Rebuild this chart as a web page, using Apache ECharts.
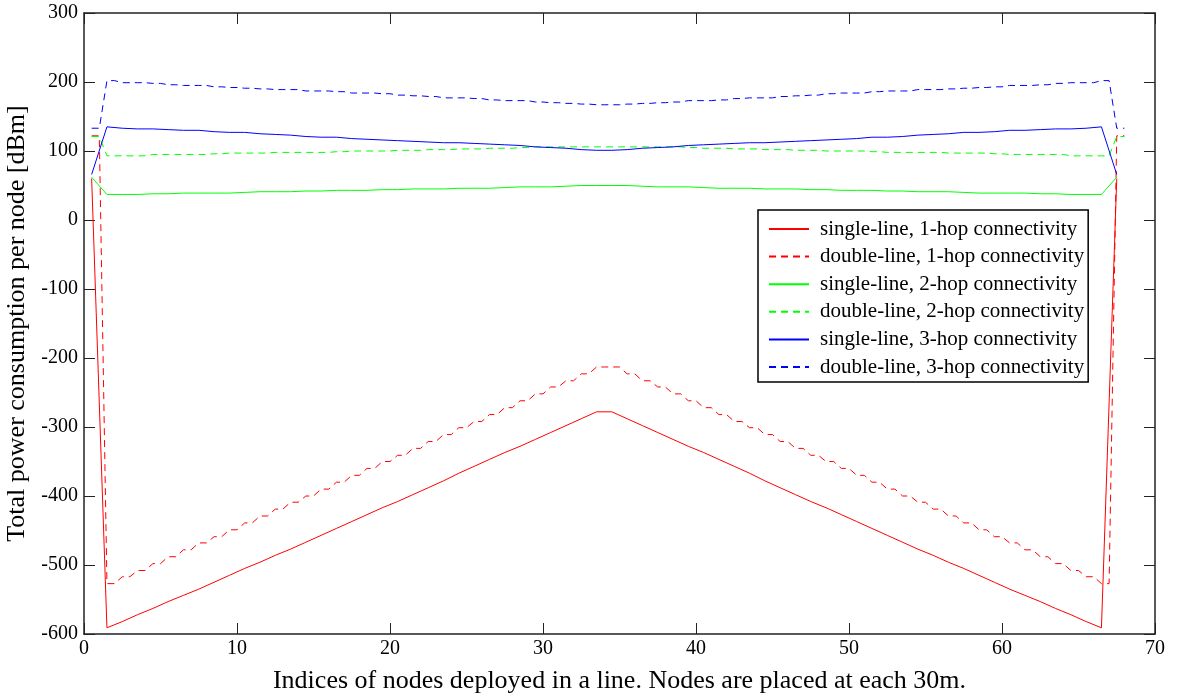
<!DOCTYPE html>
<html>
<head>
<meta charset="utf-8">
<script src="https://cdn.jsdelivr.net/npm/echarts@6/dist/echarts.min.js"></script>
<style>
  html, body { margin: 0; padding: 0; background: #fff; }
  #chart { width: 1179px; height: 697px; }
</style>
</head>
<body>
<div id="chart"></div>
<script>
// single-line series: one value per node, nodes at 0.5, 1.5, ... 67.5
var redSingle = [60, -591, -582, -572, -563, -553, -544, -535, -525, -515, -505, -496, -486, -477, -467, -457, -447, -437, -427, -417, -408, -398, -388, -378, -367, -357, -347, -337, -328, -318, -308, -298, -288, -278,
  -278, -288, -298, -308, -318, -328, -337, -347, -357, -367, -378, -388, -398, -408, -417, -427, -437, -447, -457, -467, -477, -486, -496, -505, -515, -525, -535, -544, -553, -563, -572, -582, -591, 60];
var greenSingle = [62, 37, 37, 37, 38, 38, 39, 39, 39, 39, 40, 41, 41, 41, 42, 42, 43, 43, 43, 44, 44, 45, 45, 45, 46, 46, 46, 47, 48, 48, 48, 49, 50, 50,
  50, 50, 49, 48, 48, 48, 47, 46, 46, 46, 45, 45, 45, 44, 44, 43, 43, 43, 42, 42, 41, 41, 41, 40, 39, 39, 39, 39, 38, 38, 37, 37, 37, 62];
var blueSingle = [66, 135, 133, 132, 132, 131, 130, 130, 128, 127, 127, 125, 124, 123, 121, 120, 120, 118, 117, 116, 115, 114, 113, 112, 112, 111, 110, 109, 108, 106, 105, 104, 102, 101,
  101, 102, 104, 105, 106, 108, 109, 110, 111, 112, 112, 113, 114, 115, 116, 117, 118, 120, 120, 121, 123, 124, 125, 127, 127, 128, 130, 130, 131, 132, 132, 133, 135, 66];

// double-line series: one value per node column, both nodes of a column share it
var redDouble = [122, -527, -517, -508, -498, -488, -478, -468, -459, -449, -439, -429, -419, -409, -400, -390, -380, -370, -360, -350, -341, -331, -321, -311, -301, -292, -282, -272, -262, -252, -242, -233, -223, -213,
  -213, -223, -233, -242, -252, -262, -272, -282, -292, -301, -311, -321, -331, -341, -350, -360, -370, -380, -390, -400, -409, -419, -429, -439, -449, -459, -468, -478, -488, -498, -508, -517, -527, 122];
var greenDouble = [121, 93, 93, 93, 95, 95, 95, 95, 96, 97, 97, 97, 98, 98, 98, 98, 99, 100, 100, 100, 101, 101, 102, 102, 103, 103, 104, 104, 105, 106, 106, 106, 106, 106,
  106, 106, 106, 106, 106, 105, 104, 104, 103, 103, 102, 102, 101, 101, 100, 100, 100, 99, 98, 98, 98, 98, 97, 97, 97, 96, 95, 95, 95, 95, 93, 93, 93, 121];
var blueDouble = [133, 202, 199, 199, 198, 196, 195, 195, 193, 192, 191, 190, 189, 189, 187, 187, 186, 184, 184, 183, 181, 180, 179, 177, 177, 176, 174, 173, 173, 171, 170, 169, 168, 167,
  167, 168, 169, 170, 171, 173, 173, 174, 176, 177, 177, 179, 180, 181, 183, 184, 184, 186, 187, 187, 189, 189, 190, 191, 192, 193, 195, 195, 196, 198, 199, 199, 202, 133];

var seriesNames = [
  "single-line, 1-hop connectivity",
  "double-line, 1-hop connectivity",
  "single-line, 2-hop connectivity",
  "double-line, 2-hop connectivity",
  "single-line, 3-hop connectivity",
  "double-line, 3-hop connectivity"
];

var FONT = "Liberation Serif";

function singlePoints(vals) {
  var res = [];
  for (var i = 0; i < vals.length; i++) res.push([i + 0.5, vals[i]]);
  return res;
}
function doublePoints(vals) {
  var res = [];
  for (var i = 0; i < vals.length; i++) {
    res.push([i + 0.5, vals[i]]);
    res.push([i + 1, vals[i]]);
  }
  return res;
}
function mkSeries(name, pts, color, dashed) {
  return {
    name: name,
    type: "line",
    data: pts,
    symbol: "none",
    showSymbol: false,
    lineStyle: { color: color, width: 1, type: dashed ? [7, 5] : "solid" },
    itemStyle: { color: color },
    z: 2
  };
}

var chart = echarts.init(document.getElementById("chart"));
var tickStyle = { inside: true, length: 11, lineStyle: { color: "#222", width: 1 } };
var lineAx = { show: true, onZero: false, lineStyle: { color: "#222", width: 1.5 } };

chart.setOption({
  animation: false,
  backgroundColor: "#fff",
  grid: { left: 84, right: 24, top: 13, bottom: 63, containLabel: false, outerBoundsMode: "none" },
  xAxis: [
    {
      type: "value", min: 0, max: 70, interval: 10, position: "bottom",
      axisLine: lineAx, axisTick: tickStyle, splitLine: { show: false },
      axisLabel: { fontFamily: FONT, fontSize: 20, color: "#000", margin: 5 },
      name: "Indices of nodes deployed in a line. Nodes are placed at each 30m.",
      nameLocation: "middle", nameGap: 34,
      nameTextStyle: { fontFamily: FONT, fontSize: 26, color: "#000" }
    },
    {
      type: "value", min: 0, max: 70, interval: 10, position: "top",
      axisLine: lineAx, axisTick: tickStyle, splitLine: { show: false },
      axisLabel: { show: false }
    }
  ],
  yAxis: [
    {
      type: "value", min: -600, max: 300, interval: 100, position: "left",
      axisLine: lineAx, axisTick: tickStyle, splitLine: { show: false },
      axisLabel: { fontFamily: FONT, fontSize: 20, color: "#000", margin: 6 },
      name: "Total power consumption per node [dBm]",
      nameLocation: "middle", nameGap: 48,
      nameTextStyle: { fontFamily: FONT, fontSize: 26, color: "#000" }
    },
    {
      type: "value", min: -600, max: 300, interval: 100, position: "right",
      axisLine: lineAx, axisTick: tickStyle, splitLine: { show: false },
      axisLabel: { show: false }
    }
  ],
  legend: {
    orient: "vertical",
    left: 758,
    top: 210,
    data: seriesNames,
    backgroundColor: "#fff",
    borderColor: "#000",
    borderWidth: 1.5,
    borderRadius: 0,
    padding: [7, 4, 3, 10],
    itemWidth: 40,
    itemHeight: 10,
    itemGap: 3.6,
    itemStyle: { opacity: 0 },
    textStyle: { fontFamily: FONT, fontSize: 21, color: "#000", lineHeight: 24, padding: [0, 0, 0, 6] }
  },
  series: [
    mkSeries(seriesNames[0], singlePoints(redSingle), "#ff0000", false),
    mkSeries(seriesNames[1], doublePoints(redDouble), "#ff0000", true),
    mkSeries(seriesNames[2], singlePoints(greenSingle), "#00ff00", false),
    mkSeries(seriesNames[3], doublePoints(greenDouble), "#00ff00", true),
    mkSeries(seriesNames[4], singlePoints(blueSingle), "#0000ff", false),
    mkSeries(seriesNames[5], doublePoints(blueDouble), "#0000ff", true)
  ]
});
window.addEventListener("resize", function () {
  chart.resize();
});
</script>
</body>
</html>
